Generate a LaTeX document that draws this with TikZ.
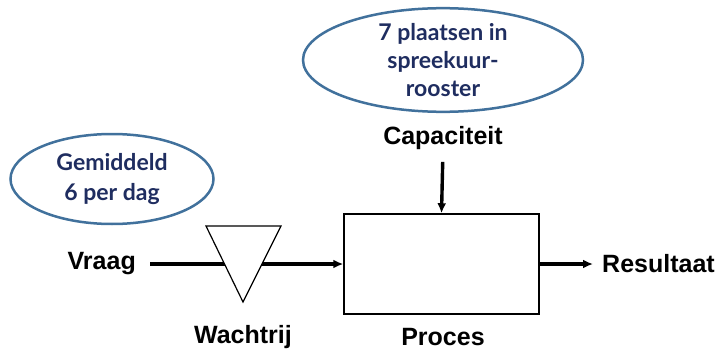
\documentclass[tikz,border=0pt]{standalone}
\usepackage{fontspec}
\setmainfont{Liberation Sans}
\newfontfamily\notefont{Lato}
\usetikzlibrary{shapes.geometric,arrows.meta}
\definecolor{notetext}{HTML}{1F2D60}
\definecolor{noteline}{HTML}{41719C}
\tikzset{
  label/.style={font=\bfseries\fontsize{25}{30}\selectfont, inner sep=0pt},
  note/.style={ellipse, draw=noteline, line width=2.5pt, fill=white, inner sep=0pt,
    text=notetext, align=center, font=\notefont\bfseries\fontsize{23}{28}\selectfont},
  flow/.style={line width=3.4pt, -{Latex[length=10pt,width=9pt]}},
  procbox/.style={draw, line width=1.5pt, minimum width=195pt, minimum height=100pt, inner sep=0pt},
}
\begin{document}
\begin{tikzpicture}[x=1pt,y=-1pt]
  \useasboundingbox (0,0) rectangle (722,350);

  % notes
  \node[note, minimum width=280pt, minimum height=80pt] (slots) at (443,60)
    {7 plaatsen in\\spreekuur-\\rooster};
  \node[note, minimum width=203pt, minimum height=90pt,
        font=\notefont\bfseries\fontsize{23}{30}\selectfont] (avg) at (112,179)
    {Gemiddeld\\6 per dag};

  % process and labels
  \node[procbox] (proces) at (441.5,264) {};
  \node[label] (proceslbl) at (443,337) {Proces};
  \node[label] (cap) at (443,138) {Capaciteit};
  \node[label, anchor=east, inner xsep=14pt] (vraag) at (150,264) {Vraag};
  \node[label, anchor=west, inner xsep=9pt] (res) at (593,264) {Resultaat};
  \node[label] (wachtrij) at (243,337) {Wachtrij};

  % flows
  \draw[flow] (vraag) -- (proces);
  \draw[flow, shorten <=12pt] (cap.south) -- (proces.north);
  \draw[flow] (proces) -- (res);

  % queue triangle
  \coordinate (queue) at (243,264);
  \draw[fill=white, line width=1.2pt] (206,226) -- (281,226) -- (243,302) -- cycle;
\end{tikzpicture}
\end{document}
